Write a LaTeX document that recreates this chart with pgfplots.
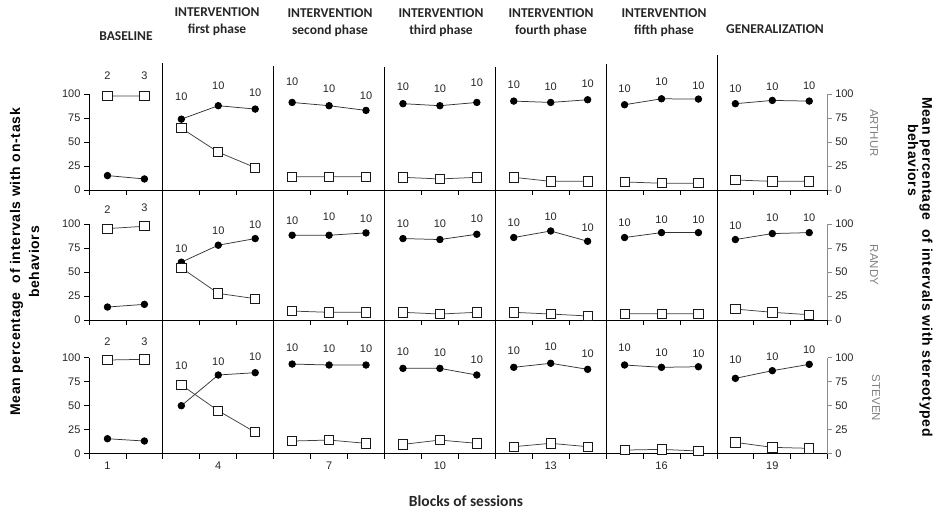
\documentclass[border=0pt]{standalone}
\usepackage{pgfplots}
\pgfplotsset{compat=1.18}
\usepackage{pgfplotstable}
\usepackage{fontspec}
\setmainfont{Liberation Sans}
\newfontfamily\calib{Carlito}
\newfontfamily\ttl[LetterSpace=5]{Liberation Sans}

\pgfplotstableread{
x c s ly lab
1 15 98 119 2
2 11.5 98 119 3
nan nan nan nan -
3 73.8 64.4 97.5 10
4 87.8 39.4 108.7 10
5 84.3 23.3 101.7 10
nan nan nan nan -
6 91.2 13.9 113 10
7 87.8 13.9 105 10
8 82.9 13.9 98 10
nan nan nan nan -
9 89.9 13.2 108 10
10 87.8 11.5 105 10
11 91.2 13.2 111.5 10
nan nan nan nan -
12 92.6 13.2 109.7 10
13 91.2 9 107.3 10
14 94 9 110.8 10
nan nan nan nan -
15 88.8 8.4 105 10
16 95 7 112.5 10
17 94.7 7 108.7 10
nan nan nan nan -
18 89.9 10.4 105 10
19 93.3 9 108 10
20 92.6 9 108.7 10
}\arthur

\pgfplotstableread{
x c s ly lab
1 13.5 95.2 115 2
2 16.3 97.6 116.6 3
nan nan nan nan -
3 60.2 54.3 74.4 10
4 77.9 27.7 92.7 10
5 84.8 22.2 99.7 10
nan nan nan nan -
6 88.3 9.3 103 10
7 88.3 8 108 10
8 90.7 8 105.6 10
nan nan nan nan -
9 84.8 8 100.4 10
10 83.8 6.2 100.4 10
11 89.3 8 105.6 10
nan nan nan nan -
12 85.9 8 101 10
13 92.7 6.2 107.3 10
14 82 4.2 96.3 10
nan nan nan nan -
15 85.9 6.6 101 10
16 91 6.6 104.9 10
17 91 6.6 104.9 10
nan nan nan nan -
18 83.8 11.4 98.6 10
19 90 8 106.6 10
20 91 5.5 106.6 10
}\randy

\pgfplotstableread{
x c s ly lab
1 15.6 97.6 116.7 2
2 13.2 98.3 116.7 3
nan nan nan nan -
3 50 71.6 91.7 10
4 82 44.8 95.8 10
5 84.4 22.3 101 10
nan nan nan nan -
6 93.4 13.2 110.8 10
7 92.4 14.2 109.8 10
8 92.4 10.8 109.8 10
nan nan nan nan -
9 88.9 9.7 106.2 10
10 88.9 14.2 105.2 10
11 82 10.8 98.3 10
nan nan nan nan -
12 90 7.3 107.3 10
13 94.2 10.8 111.5 10
14 87.9 7.3 104.6 10
nan nan nan nan -
15 92.4 3.8 110.4 10
16 90 4.5 105.2 10
17 90.6 2.8 104.6 10
nan nan nan nan -
18 78.5 11.8 97.6 10
19 86.5 6.6 101 10
20 93.1 5.6 108 10
}\steven

\pgfplotsset{
  rowax/.style={
    scale only axis, width=738.7pt,
    xmin=0.5, xmax=20.5, ymin=0,
    anchor=south west, clip=false,
    axis x line=bottom, axis y line=left,
    x axis line style={-, line width=0.8pt, black},
    y axis line style={draw=none},
    ytick={0,25,50,75,100},
    xtick={1,4,...,19},
    minor xtick={0.5,1.5,...,20.5},
    tick align=outside,
    major tick length=5pt, minor tick length=5pt,
    major x tick style={draw=none},
    minor x tick style={black, line width=0.8pt},
    y tick style={black, line width=0.8pt},
    tick label style={font=\fontsize{11}{13}\selectfont, text=black!85},
    /pgf/number format/assume math mode=true,
    unbounded coords=jump,
  },
  rightax/.style={
    scale only axis, width=738.7pt,
    xmin=0.5, xmax=20.5, ymin=0,
    anchor=south west, clip=false,
    axis x line=none, axis y line=right,
    y axis line style={draw=none},
    ytick={0,25,50,75,100},
    tick align=outside, major tick length=4pt,
    y tick style={black!45, line width=0.8pt},
    tick label style={font=\fontsize{11}{13}\selectfont, text=black!85},
    /pgf/number format/assume math mode=true,
  },
  circ/.style={black!80, line width=0.75pt, mark=*, mark size=3.3pt, mark options={fill=black, draw=black, solid}},
  sq/.style={black!75, line width=0.75pt, mark=square*, mark size=4.6pt, mark options={fill=white, draw=black!90, line width=0.8pt, solid}},
  labs/.style={draw=none, mark=none, unbounded coords=discard, nodes near coords, point meta=explicit symbolic,
    nodes near coords style={anchor=center, inner sep=0pt, font=\fontsize{11}{13}\selectfont, text=black!85}},
}

\begin{document}
\begin{tikzpicture}
\path[use as bounding box] (0,0) rectangle (944pt,513pt);

% ---------- ARTHUR ----------
\begin{axis}[rowax, at={(89pt,323pt)}, ymax=141, height=135.36pt, xticklabels={}]
\addplot[circ] table[x=x,y=c]{\arthur};
\addplot[sq] table[x=x,y=s]{\arthur};
\addplot[labs] table[x=x,y=ly,meta=lab]{\arthur};
\draw[black, line width=0.8pt] (axis cs:0.5,0) -- (axis cs:0.5,100);
\draw[black, line width=0.8pt] (axis cs:2.5,0) -- (axis cs:2.5,132.7);
\draw[black, line width=0.8pt] (axis cs:5.5,0) -- (axis cs:5.5,129.6);
\draw[black, line width=0.8pt] (axis cs:8.5,0) -- (axis cs:8.5,128.5);
\draw[black, line width=0.8pt] (axis cs:11.5,0) -- (axis cs:11.5,128.5);
\draw[black, line width=0.8pt] (axis cs:14.5,0) -- (axis cs:14.5,131.7);
\draw[black, line width=0.8pt] (axis cs:17.5,0) -- (axis cs:17.5,141);
\end{axis}
\begin{axis}[rightax, at={(89pt,323pt)}, ymax=141, height=135.36pt]
\draw[black!45, line width=0.8pt] (axis cs:20.5,0) -- (axis cs:20.5,100);
\end{axis}

% ---------- RANDY ----------
\begin{axis}[rowax, at={(89pt,193pt)}, ymax=135.4, height=130pt, xticklabels={}]
\addplot[circ] table[x=x,y=c]{\randy};
\addplot[sq] table[x=x,y=s]{\randy};
\addplot[labs] table[x=x,y=ly,meta=lab]{\randy};
\draw[black, line width=0.8pt] (axis cs:0.5,0) -- (axis cs:0.5,100);
\draw[black, line width=0.8pt] (axis cs:2.5,0) -- (axis cs:2.5,135.4);
\draw[black, line width=0.8pt] (axis cs:5.5,0) -- (axis cs:5.5,135.4);
\draw[black, line width=0.8pt] (axis cs:8.5,0) -- (axis cs:8.5,135.4);
\draw[black, line width=0.8pt] (axis cs:11.5,0) -- (axis cs:11.5,135.4);
\draw[black, line width=0.8pt] (axis cs:14.5,0) -- (axis cs:14.5,135.4);
\draw[black, line width=0.8pt] (axis cs:17.5,0) -- (axis cs:17.5,135.4);
\end{axis}
\begin{axis}[rightax, at={(89pt,193pt)}, ymax=135.4, height=130pt]
\draw[black!45, line width=0.8pt] (axis cs:20.5,0) -- (axis cs:20.5,100);
\end{axis}

% ---------- STEVEN ----------
\begin{axis}[rowax, at={(89pt,59.3pt)}, ymax=139.3, height=133.7pt,
  xticklabels={1,4,7,10,13,16,19}]
\addplot[circ] table[x=x,y=c]{\steven};
\addplot[sq] table[x=x,y=s]{\steven};
\addplot[labs] table[x=x,y=ly,meta=lab]{\steven};
\draw[black, line width=0.8pt] (axis cs:0.5,0) -- (axis cs:0.5,100);
\draw[black, line width=0.8pt] (axis cs:2.5,0) -- (axis cs:2.5,139.3);
\draw[black, line width=0.8pt] (axis cs:5.5,0) -- (axis cs:5.5,139.3);
\draw[black, line width=0.8pt] (axis cs:8.5,0) -- (axis cs:8.5,139.3);
\draw[black, line width=0.8pt] (axis cs:11.5,0) -- (axis cs:11.5,139.3);
\draw[black, line width=0.8pt] (axis cs:14.5,0) -- (axis cs:14.5,139.3);
\draw[black, line width=0.8pt] (axis cs:17.5,0) -- (axis cs:17.5,139.3);
\end{axis}
\begin{axis}[rightax, at={(89pt,59.3pt)}, ymax=139.3, height=133.7pt]
\draw[black!45, line width=0.8pt] (axis cs:20.5,0) -- (axis cs:20.5,100);
\end{axis}

% ---------- headers ----------
\begin{scope}[every node/.style={font=\calib\bfseries\fontsize{13.5}{17}\selectfont, text=black!85, align=center, inner sep=0pt}]
\node at (126pt,477pt) {BASELINE};
\node at (217pt,491pt) {INTERVENTION\\first phase};
\node at (330pt,490pt) {INTERVENTION\\second phase};
\node at (441pt,490pt) {INTERVENTION\\third phase};
\node at (551pt,490pt) {INTERVENTION\\fourth phase};
\node at (664pt,490pt) {INTERVENTION\\fifth phase};
\node at (775pt,483.5pt) {GENERALIZATION};
\node[font=\calib\bfseries\fontsize{15.5}{18}\selectfont] at (466pt,12pt) {Blocks of sessions};
\end{scope}

% ---------- participant names ----------
\begin{scope}[every node/.style={font=\fontsize{11.5}{13}\selectfont, text=black!50, rotate=-90, inner sep=0pt}]
\node at (874pt,380pt) {ARTHUR};
\node at (874pt,248pt) {RANDY};
\node at (876pt,115pt) {STEVEN};
\end{scope}

% ---------- axis titles ----------
\node[font=\ttl\bfseries\fontsize{14}{19}\selectfont, rotate=90, align=center, inner sep=0pt] at (24.5pt,251pt)
  {Mean percentage\ \ of intervals with on-task\\behaviors};
\node[font=\ttl\bfseries\fontsize{14}{15}\selectfont, rotate=-90, inner sep=0pt] at (926pt,246pt)
  {Mean percentage\ \ of intervals with stereotyped};
\node[font=\ttl\bfseries\fontsize{14}{15}\selectfont, rotate=-90, inner sep=0pt] at (913pt,353pt)
  {behaviors};
\end{tikzpicture}
\end{document}
